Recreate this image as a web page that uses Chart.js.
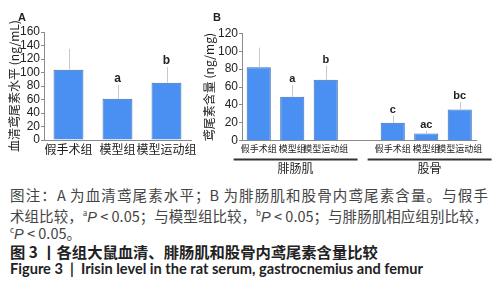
<!DOCTYPE html>
<html><head><meta charset="utf-8">
<script src="https://cdn.jsdelivr.net/npm/chart.js@4"></script>
<style>
html,body{margin:0;padding:0;background:#fff;width:498px;height:300px;overflow:hidden;}
#wa{position:absolute;left:0;top:0;width:215px;height:180px;}
#wb{position:absolute;left:190px;top:0;width:308px;height:180px;}
.cap{position:absolute;left:10px;width:478px;font-family:"Noto Sans CJK SC","Noto Sans",sans-serif;white-space:nowrap;}
.n{font-size:14.5px;color:#444;line-height:18px;text-align:justify;text-align-last:justify;}
.n.last{text-align-last:left;}
.t{font-size:15.3px;font-weight:bold;color:#222;line-height:18px;}
sup{font-size:8px;vertical-align:6px;}
i{font-family:"Liberation Sans",Arial,sans-serif;}
</style></head>
<body>
<div id="wa"><canvas id="ca"></canvas></div>
<div id="wb"><canvas id="cb"></canvas></div>
<div class="cap n" style="top:186px;">图注：A 为血清鸢尾素水平；B 为腓肠肌和股骨内鸢尾素含量。与假手</div>
<div class="cap n" style="top:203.5px;">术组比较，<sup>a</sup><i>P</i> &lt; 0.05；与模型组比较，<sup>b</sup><i>P</i> &lt; 0.05；与腓肠肌相应组别比较，</div>
<div class="cap n last" style="top:221px;"><sup>c</sup><i>P</i> &lt; 0.05。</div>
<div class="cap t" style="top:242px;">图 3 丨各组大鼠血清、腓肠肌和股骨内鸢尾素含量比较</div>
<div class="cap t" style="top:260px;font-family:Lato,'Open Sans',sans-serif;font-size:14.6px;">Figure 3&nbsp; |&nbsp; Irisin level in the rat serum, gastrocnemius and femur</div>
<script>
// ---- Data ----
const catsA = ['假手术组', '模型组', '模型运动组'];
const serumMean = [104, 61, 85];
const serumErr = [31, 20, 23];
const serumSig = ['', 'a', 'b'];

const catsB = ['假手术组', '模型组', '模型运动组', '', '假手术组', '模型组', '模型运动组'];
const tissueMean = [82, 49, 68, null, 20, 8, 35];
const tissueErr = [22, 13, 16, null, 8, 3, 8];
const tissueSig = ['', 'a', 'b', '', 'c', 'ac', 'bc'];
const groupNames = ['腓肠肌', '股骨'];
const groupFrom = [0, 4];
const groupTo = [2, 6];

const BAR = '#4a90f3';
const EDGE = '#3d6db0';
const AX = '#8a8a8a';
const tickFont = {family: "'Liberation Sans Narrow','Liberation Sans',Arial,sans-serif", size: 12};

function errPlugin(errs, sig, letterSize) {
  return {
    id: 'err',
    afterDatasetsDraw(chart) {
      const ctx = chart.ctx, x = chart.scales.x, y = chart.scales.y;
      const vals = chart.data.datasets[0].data;
      ctx.save();
      vals.forEach((v, i) => {
        if (v == null) return;
        const px = x.getPixelForValue(i);
        const top = y.getPixelForValue(v + errs[i]);
        const base = y.getPixelForValue(v);
        ctx.strokeStyle = '#c8c8c8';
        ctx.lineWidth = 1;
        ctx.beginPath();
        ctx.moveTo(Math.round(px) + 0.5, base);
        ctx.lineTo(Math.round(px) + 0.5, top);
        ctx.stroke();
        if (sig[i]) {
          ctx.fillStyle = '#222';
          ctx.font = 'bold ' + letterSize + 'px "Liberation Sans", Arial, sans-serif';
          ctx.textAlign = 'center';
          ctx.textBaseline = 'alphabetic';
          ctx.fillText(sig[i], px, top - 3);
        }
      });
      ctx.restore();
    }
  };
}

function panelLabel(txt, xx, yy) {
  return {
    id: 'panel',
    afterDraw(chart) {
      const ctx = chart.ctx;
      ctx.save();
      ctx.fillStyle = '#222';
      ctx.font = 'bold 11px "Liberation Sans", Arial, sans-serif';
      ctx.textAlign = 'left';
      ctx.textBaseline = 'alphabetic';
      ctx.fillText(txt, xx, yy);
      ctx.restore();
    }
  };
}

const groupPlugin = {
  id: 'groups',
  afterDraw(chart) {
    const ctx = chart.ctx, x = chart.scales.x;
    const w = x.getPixelForValue(1) - x.getPixelForValue(0);
    ctx.save();
    groupNames.forEach((g, k) => {
      const l = x.getPixelForValue(groupFrom[k]) - 0.75 * w;
      const r = x.getPixelForValue(groupTo[k]) + 0.95 * w;
      ctx.strokeStyle = '#333';
      ctx.lineWidth = 1.8;
      ctx.beginPath();
      ctx.moveTo(l, 159.5);
      ctx.lineTo(r, 159.5);
      ctx.stroke();
      ctx.fillStyle = '#222';
      ctx.font = '12px "Noto Sans CJK SC", sans-serif';
      ctx.textAlign = 'center';
      ctx.textBaseline = 'middle';
      ctx.fillText(g, (l + r) / 2, 168);
    });
    ctx.restore();
  }
};

function makeScales(maxV, yWidth, xHeight, title, xFontSize) {
  return {
    x: {
      grid: {display: false, drawTicks: false},
      border: {color: AX, width: 1},
      ticks: {color: '#222', font: {family: "'Noto Sans CJK SC',sans-serif", size: xFontSize}, autoSkip: false, maxRotation: 0, minRotation: 0, padding: 2},
      afterFit(s) { s.height = xHeight; }
    },
    y: {
      min: 0, max: maxV,
      grid: {drawOnChartArea: false, drawTicks: true, tickLength: 3, color: AX},
      border: {color: AX, width: 1},
      ticks: {color: '#222', font: tickFont, padding: 1, stepSize: 20, autoSkip: false},
      title: {display: true, text: title, color: '#222', font: {family: "'Noto Sans CJK SC',sans-serif", size: 12}, padding: 0},
      afterFit(s) { s.width = yWidth; }
    }
  };
}

new Chart(document.getElementById('ca'), {
  type: 'bar',
  data: {labels: catsA, datasets: [{data: serumMean, backgroundColor: BAR, borderColor: EDGE, borderWidth: 1, categoryPercentage: 1, barPercentage: 0.61}]},
  options: {
    responsive: true, maintainAspectRatio: false, animation: false,
    layout: {padding: {left: 7, right: 24, top: 32, bottom: 0}},
    plugins: {legend: {display: false}, tooltip: {enabled: false}},
    scales: makeScales(160, 37, 40, '血清鸢尾素水平 (ng/mL)', 12)
  },
  plugins: [errPlugin(serumErr, serumSig, 12), panelLabel('A', 18, 21)]
});

new Chart(document.getElementById('cb'), {
  type: 'bar',
  data: {labels: catsB, datasets: [{data: tissueMean, backgroundColor: BAR, borderColor: EDGE, borderWidth: 1, categoryPercentage: 1, barPercentage: 0.72}]},
  options: {
    responsive: true, maintainAspectRatio: false, animation: false,
    layout: {padding: {left: 12, right: 21.5, top: 33.3, bottom: 0}},
    plugins: {legend: {display: false}, tooltip: {enabled: false}},
    scales: makeScales(120, 40, 39.3, '鸢尾素含量 (ng/mg)', 9)
  },
  plugins: [errPlugin(tissueErr, tissueSig, 11), groupPlugin, panelLabel('B', 23, 21)]
});
</script>
</body></html>
